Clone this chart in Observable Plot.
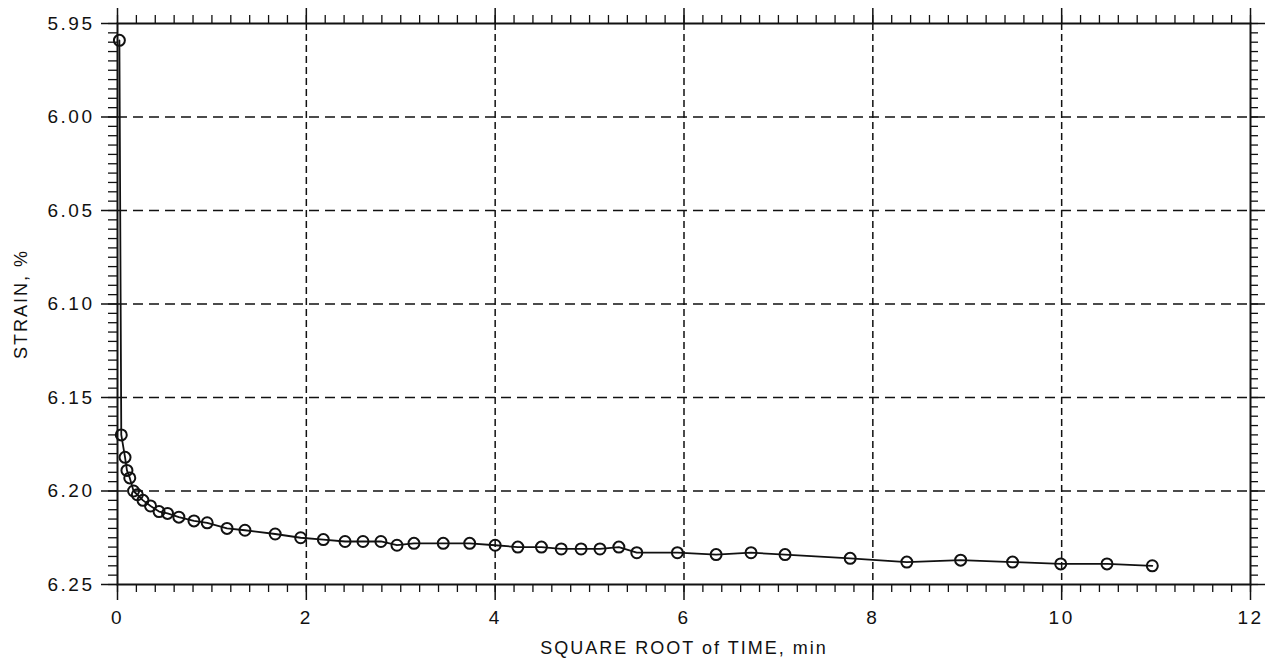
<!DOCTYPE html>
<html>
<head>
<meta charset="utf-8">
<script src="https://cdn.jsdelivr.net/npm/d3@7"></script>
<script src="https://cdn.jsdelivr.net/npm/@observablehq/plot@0.6"></script>
<style>
  html, body { margin: 0; padding: 0; background: #fff; }
  #chart { width: 1267px; height: 661px; overflow: hidden; }
  #chart svg text { letter-spacing: 2.5px; }
  #chart svg text.lbl { letter-spacing: 2px; }
</style>
</head>
<body>
<div id="chart"></div>
<script>
// Data
const sqrtTime = [0.02, 0.04, 0.08, 0.10, 0.13, 0.17, 0.21, 0.27, 0.35, 0.44,
  0.53, 0.65, 0.81, 0.95, 1.16, 1.35, 1.67, 1.94, 2.18, 2.41,
  2.60, 2.79, 2.96, 3.14, 3.45, 3.73, 4.00, 4.24, 4.49, 4.70,
  4.91, 5.11, 5.31, 5.50, 5.93, 6.34, 6.71, 7.07, 7.76, 8.36,
  8.93, 9.48, 9.99, 10.48, 10.96];
const strain = [5.959, 6.170, 6.182, 6.189, 6.193, 6.200, 6.202, 6.205, 6.208, 6.211,
  6.212, 6.214, 6.216, 6.217, 6.220, 6.221, 6.223, 6.225, 6.226, 6.227,
  6.227, 6.227, 6.229, 6.228, 6.228, 6.228, 6.229, 6.230, 6.230, 6.231,
  6.231, 6.231, 6.230, 6.233, 6.233, 6.234, 6.233, 6.234, 6.236, 6.238,
  6.237, 6.238, 6.239, 6.239, 6.240];

const xTicks = [0, 2, 4, 6, 8, 10, 12];
const yTicks = [5.95, 6.00, 6.05, 6.10, 6.15, 6.20, 6.25];
const xGrid = [2, 4, 6, 8, 10];
const yGrid = [6.00, 6.05, 6.10, 6.15, 6.20];
const xLabel = "SQUARE ROOT of TIME, min";
const yLabel = "STRAIN, %";

const xMinor = d3.range(0, 12.0001, 0.2).map(v => +v.toFixed(2));
const yMinor = d3.range(5.95, 6.2501, 0.005).map(v => +v.toFixed(3));

const data = sqrtTime.map((x, i) => ({x, y: strain[i]}));

const ink = "#111";

const chart = Plot.plot({
  width: 1267,
  height: 661,
  marginLeft: 117,
  marginRight: 17,
  marginTop: 23,
  marginBottom: 77,
  style: {fontFamily: "'Liberation Sans', Arial, sans-serif", fontSize: "19px", color: ink, background: "#fff"},
  x: {domain: [0, 12]},
  y: {domain: [5.95, 6.25], reverse: true},
  marks: [
    Plot.gridX(xGrid, {stroke: ink, strokeOpacity: 1, strokeWidth: 1.5, strokeDasharray: "7,4"}),
    Plot.gridY(yGrid, {stroke: ink, strokeOpacity: 1, strokeWidth: 1.5, strokeDasharray: "10,6"}),
    // minor ticks
    Plot.axisX(xMinor, {anchor: "bottom", tickSize: 8, text: null, stroke: ink, strokeWidth: 1.3, label: null}),
    Plot.axisX(xMinor, {anchor: "top", tickSize: 9, text: null, stroke: ink, strokeWidth: 1.3, label: null}),
    Plot.axisY(yMinor, {anchor: "left", tickSize: 9, text: null, stroke: ink, strokeWidth: 1.3, label: null}),
    Plot.axisY(yMinor, {anchor: "right", tickSize: 7, text: null, stroke: ink, strokeWidth: 1.3, label: null}),
    // major ticks
    Plot.axisX(xTicks, {anchor: "bottom", tickSize: 16, tickPadding: 10, stroke: ink, strokeWidth: 1.5,
      label: null, fontSize: 19}),
    Plot.axisX(xTicks, {anchor: "top", tickSize: 16, text: null, stroke: ink, strokeWidth: 1.5, label: null}),
    Plot.axisY(yTicks, {anchor: "left", tickSize: 16, tickPadding: 7, stroke: ink, strokeWidth: 1.5,
      tickFormat: d3.format(".2f"), label: null, fontSize: 19}),
    Plot.axisY(yTicks, {anchor: "right", tickSize: 14, text: null, stroke: ink, strokeWidth: 1.5, label: null}),
    Plot.frame({stroke: ink, strokeWidth: 2}),
    Plot.line(data, {x: "x", y: "y", stroke: ink, strokeWidth: 1.8}),
    Plot.dot(data, {x: "x", y: "y", r: 5.5, stroke: ink, strokeWidth: 2, fill: "none"}),
    // axis titles
    Plot.text([xLabel], {text: d => d, frameAnchor: "bottom", lineAnchor: "bottom", textAnchor: "middle", dy: 69,
      fontSize: 18, fill: ink}),
    Plot.text([yLabel], {text: d => d, frameAnchor: "left", rotate: -90, lineAnchor: "middle", textAnchor: "middle", dx: -96,
      fontSize: 18, fill: ink})
  ]
});
document.getElementById("chart").appendChild(chart);
document.querySelectorAll("#chart svg g").forEach(g => {
  if (g.getAttribute("aria-label") === "text") g.querySelectorAll("text").forEach(t => t.classList.add("lbl"));
});
</script>
</body>
</html>
